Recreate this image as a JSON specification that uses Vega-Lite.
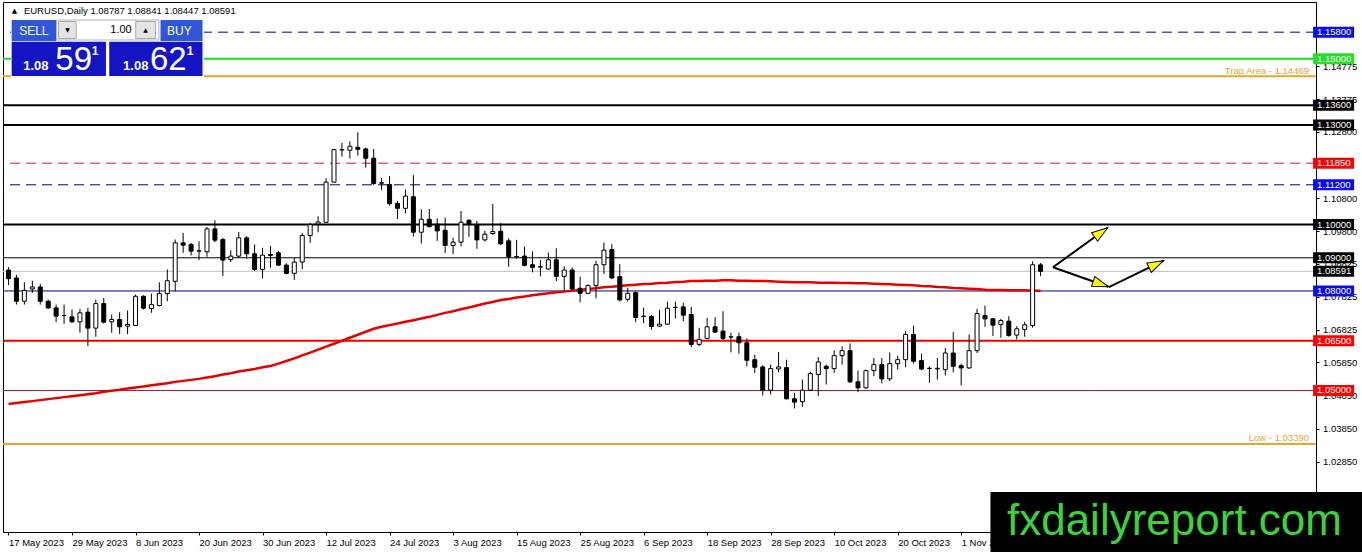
{
"$schema":"https://vega.github.io/schema/vega-lite/v6.json",
"width":1313,"height":530,
"autosize":{"type":"none"},
"padding":{"left":3,"top":2,"right":46,"bottom":20},
"background":"#ffffff",
"config":{"view":{"stroke":"#000000","strokeWidth":1},"text":{"font":"Liberation Sans"},"axis":{"labelFont":"Liberation Sans","labelFontSize":9.5,"labelColor":"#000000","domainColor":"#000000","tickColor":"#000000","grid":false,"zindex":0,"labelOverlap":false},"axisY":{"labelOverlap":false},"axisRight":{"labelOverlap":false},"axisQuantitative":{"labelOverlap":false}},
"datasets":{
"candles":[
{"i":1,"d":"2023-05-17","o":1.0863,"h":1.0872,"l":1.0818,"c":1.0837,"ma":1.0459},
{"i":2,"d":"2023-05-18","o":1.0839,"h":1.0849,"l":1.0759,"c":1.0769,"ma":1.0462},
{"i":3,"d":"2023-05-19","o":1.0769,"h":1.0826,"l":1.0759,"c":1.0802,"ma":1.0465},
{"i":4,"d":"2023-05-22","o":1.0806,"h":1.0831,"l":1.0794,"c":1.0812,"ma":1.0468},
{"i":5,"d":"2023-05-23","o":1.0812,"h":1.0822,"l":1.0759,"c":1.0769,"ma":1.0471},
{"i":6,"d":"2023-05-24","o":1.0769,"h":1.0774,"l":1.0746,"c":1.0749,"ma":1.0474},
{"i":7,"d":"2023-05-25","o":1.0749,"h":1.0759,"l":1.0706,"c":1.0724,"ma":1.0477},
{"i":8,"d":"2023-05-26","o":1.0726,"h":1.0759,"l":1.0701,"c":1.0726,"ma":1.0480},
{"i":9,"d":"2023-05-29","o":1.0722,"h":1.0744,"l":1.0704,"c":1.0707,"ma":1.0483},
{"i":10,"d":"2023-05-30","o":1.0707,"h":1.0746,"l":1.0674,"c":1.0734,"ma":1.0486},
{"i":11,"d":"2023-05-31","o":1.0736,"h":1.0749,"l":1.0634,"c":1.0688,"ma":1.0489},
{"i":12,"d":"2023-06-01","o":1.0688,"h":1.0774,"l":1.0662,"c":1.0762,"ma":1.0492},
{"i":13,"d":"2023-06-02","o":1.0762,"h":1.0779,"l":1.0702,"c":1.0706,"ma":1.0496},
{"i":14,"d":"2023-06-05","o":1.0707,"h":1.0729,"l":1.0674,"c":1.0714,"ma":1.0499},
{"i":15,"d":"2023-06-06","o":1.0714,"h":1.0736,"l":1.0670,"c":1.0692,"ma":1.0502},
{"i":16,"d":"2023-06-07","o":1.0694,"h":1.0741,"l":1.0670,"c":1.0699,"ma":1.0506},
{"i":17,"d":"2023-06-08","o":1.0696,"h":1.0789,"l":1.0694,"c":1.0784,"ma":1.0509},
{"i":18,"d":"2023-06-09","o":1.0784,"h":1.0787,"l":1.0744,"c":1.0748,"ma":1.0512},
{"i":19,"d":"2023-06-12","o":1.0747,"h":1.0792,"l":1.0734,"c":1.0759,"ma":1.0516},
{"i":20,"d":"2023-06-13","o":1.0756,"h":1.0826,"l":1.0754,"c":1.0792,"ma":1.0519},
{"i":21,"d":"2023-06-14","o":1.0792,"h":1.0865,"l":1.0769,"c":1.0831,"ma":1.0522},
{"i":22,"d":"2023-06-15","o":1.0829,"h":1.0955,"l":1.0799,"c":1.0945,"ma":1.0526},
{"i":23,"d":"2023-06-16","o":1.0945,"h":1.0975,"l":1.0915,"c":1.0938,"ma":1.0529},
{"i":24,"d":"2023-06-19","o":1.0940,"h":1.0945,"l":1.0907,"c":1.0920,"ma":1.0532},
{"i":25,"d":"2023-06-20","o":1.0920,"h":1.0950,"l":1.0893,"c":1.0921,"ma":1.0535},
{"i":26,"d":"2023-06-21","o":1.0918,"h":1.0993,"l":1.0903,"c":1.0987,"ma":1.0539},
{"i":27,"d":"2023-06-22","o":1.0987,"h":1.1013,"l":1.0947,"c":1.0953,"ma":1.0543},
{"i":28,"d":"2023-06-23","o":1.0955,"h":1.0960,"l":1.0845,"c":1.0893,"ma":1.0548},
{"i":29,"d":"2023-06-26","o":1.0895,"h":1.0923,"l":1.0887,"c":1.0905,"ma":1.0552},
{"i":30,"d":"2023-06-27","o":1.0905,"h":1.0978,"l":1.0900,"c":1.0960,"ma":1.0557},
{"i":31,"d":"2023-06-28","o":1.0960,"h":1.0965,"l":1.0897,"c":1.0912,"ma":1.0561},
{"i":32,"d":"2023-06-29","o":1.0912,"h":1.0940,"l":1.0860,"c":1.0865,"ma":1.0565},
{"i":33,"d":"2023-06-30","o":1.0865,"h":1.0930,"l":1.0838,"c":1.0908,"ma":1.0570},
{"i":34,"d":"2023-07-03","o":1.0910,"h":1.0935,"l":1.0870,"c":1.0907,"ma":1.0574},
{"i":35,"d":"2023-07-04","o":1.0915,"h":1.0920,"l":1.0875,"c":1.0878,"ma":1.0581},
{"i":36,"d":"2023-07-05","o":1.0878,"h":1.0883,"l":1.0850,"c":1.0853,"ma":1.0589},
{"i":37,"d":"2023-07-06","o":1.0853,"h":1.0900,"l":1.0833,"c":1.0887,"ma":1.0597},
{"i":38,"d":"2023-07-07","o":1.0887,"h":1.0975,"l":1.0865,"c":1.0967,"ma":1.0606},
{"i":39,"d":"2023-07-10","o":1.0967,"h":1.1005,"l":1.0945,"c":1.1000,"ma":1.0614},
{"i":40,"d":"2023-07-11","o":1.1002,"h":1.1025,"l":1.0977,"c":1.1008,"ma":1.0623},
{"i":41,"d":"2023-07-12","o":1.1007,"h":1.1140,"l":1.1005,"c":1.1128,"ma":1.0632},
{"i":42,"d":"2023-07-13","o":1.1128,"h":1.1228,"l":1.1127,"c":1.1226,"ma":1.0641},
{"i":43,"d":"2023-07-14","o":1.1225,"h":1.1246,"l":1.1205,"c":1.1226,"ma":1.0650},
{"i":44,"d":"2023-07-17","o":1.1224,"h":1.1251,"l":1.1199,"c":1.1236,"ma":1.0659},
{"i":45,"d":"2023-07-18","o":1.1233,"h":1.1278,"l":1.1208,"c":1.1227,"ma":1.0668},
{"i":46,"d":"2023-07-19","o":1.1228,"h":1.1232,"l":1.1172,"c":1.1200,"ma":1.0677},
{"i":47,"d":"2023-07-20","o":1.1200,"h":1.1228,"l":1.1119,"c":1.1124,"ma":1.0686},
{"i":48,"d":"2023-07-21","o":1.1126,"h":1.1141,"l":1.1104,"c":1.1125,"ma":1.0692},
{"i":49,"d":"2023-07-24","o":1.1121,"h":1.1146,"l":1.1057,"c":1.1063,"ma":1.0697},
{"i":50,"d":"2023-07-25","o":1.1064,"h":1.1071,"l":1.1017,"c":1.1049,"ma":1.0702},
{"i":51,"d":"2023-07-26","o":1.1049,"h":1.1106,"l":1.1034,"c":1.1086,"ma":1.0707},
{"i":52,"d":"2023-07-27","o":1.1084,"h":1.1149,"l":1.0964,"c":1.0977,"ma":1.0712},
{"i":53,"d":"2023-07-28","o":1.0977,"h":1.1046,"l":1.0943,"c":1.1016,"ma":1.0717},
{"i":54,"d":"2023-07-31","o":1.1016,"h":1.1047,"l":1.0991,"c":1.0994,"ma":1.0722},
{"i":55,"d":"2023-08-01","o":1.1001,"h":1.1019,"l":1.0951,"c":1.0981,"ma":1.0728},
{"i":56,"d":"2023-08-02","o":1.0983,"h":1.1021,"l":1.0914,"c":1.0937,"ma":1.0734},
{"i":57,"d":"2023-08-03","o":1.0937,"h":1.0961,"l":1.0911,"c":1.0947,"ma":1.0739},
{"i":58,"d":"2023-08-04","o":1.0947,"h":1.1041,"l":1.0934,"c":1.1007,"ma":1.0745},
{"i":59,"d":"2023-08-07","o":1.1013,"h":1.1016,"l":1.0963,"c":1.1003,"ma":1.0750},
{"i":60,"d":"2023-08-08","o":1.0999,"h":1.1011,"l":1.0927,"c":1.0954,"ma":1.0756},
{"i":61,"d":"2023-08-09","o":1.0954,"h":1.0981,"l":1.0949,"c":1.0971,"ma":1.0762},
{"i":62,"d":"2023-08-10","o":1.0973,"h":1.1062,"l":1.0969,"c":1.0979,"ma":1.0767},
{"i":63,"d":"2023-08-11","o":1.0980,"h":1.1005,"l":1.0939,"c":1.0942,"ma":1.0773},
{"i":64,"d":"2023-08-14","o":1.0951,"h":1.0959,"l":1.0873,"c":1.0903,"ma":1.0776},
{"i":65,"d":"2023-08-15","o":1.0903,"h":1.0954,"l":1.0897,"c":1.0904,"ma":1.0780},
{"i":66,"d":"2023-08-16","o":1.0905,"h":1.0934,"l":1.0874,"c":1.0877,"ma":1.0783},
{"i":67,"d":"2023-08-17","o":1.0879,"h":1.0919,"l":1.0856,"c":1.0871,"ma":1.0787},
{"i":68,"d":"2023-08-18","o":1.0872,"h":1.0894,"l":1.0844,"c":1.0873,"ma":1.0790},
{"i":69,"d":"2023-08-21","o":1.0866,"h":1.0916,"l":1.0864,"c":1.0894,"ma":1.0793},
{"i":70,"d":"2023-08-22","o":1.0894,"h":1.0929,"l":1.0830,"c":1.0844,"ma":1.0796},
{"i":71,"d":"2023-08-23","o":1.0844,"h":1.0874,"l":1.0800,"c":1.0863,"ma":1.0798},
{"i":72,"d":"2023-08-24","o":1.0863,"h":1.0871,"l":1.0800,"c":1.0806,"ma":1.0801},
{"i":73,"d":"2023-08-25","o":1.0808,"h":1.0843,"l":1.0766,"c":1.0793,"ma":1.0803},
{"i":74,"d":"2023-08-28","o":1.0793,"h":1.0820,"l":1.0790,"c":1.0816,"ma":1.0806},
{"i":75,"d":"2023-08-29","o":1.0816,"h":1.0891,"l":1.0778,"c":1.0879,"ma":1.0808},
{"i":76,"d":"2023-08-30","o":1.0879,"h":1.0946,"l":1.0851,"c":1.0923,"ma":1.0811},
{"i":77,"d":"2023-08-31","o":1.0925,"h":1.0941,"l":1.0837,"c":1.0839,"ma":1.0813},
{"i":78,"d":"2023-09-01","o":1.0843,"h":1.0881,"l":1.0768,"c":1.0773,"ma":1.0815},
{"i":79,"d":"2023-09-04","o":1.0775,"h":1.0810,"l":1.0768,"c":1.0793,"ma":1.0817},
{"i":80,"d":"2023-09-05","o":1.0795,"h":1.0798,"l":1.0706,"c":1.0720,"ma":1.0819},
{"i":81,"d":"2023-09-06","o":1.0723,"h":1.0750,"l":1.0703,"c":1.0724,"ma":1.0821},
{"i":82,"d":"2023-09-07","o":1.0723,"h":1.0728,"l":1.0683,"c":1.0693,"ma":1.0822},
{"i":83,"d":"2023-09-08","o":1.0694,"h":1.0743,"l":1.0692,"c":1.0700,"ma":1.0824},
{"i":84,"d":"2023-09-11","o":1.0700,"h":1.0768,"l":1.0698,"c":1.0748,"ma":1.0825},
{"i":85,"d":"2023-09-12","o":1.0750,"h":1.0768,"l":1.0717,"c":1.0751,"ma":1.0827},
{"i":86,"d":"2023-09-13","o":1.0752,"h":1.0764,"l":1.0709,"c":1.0727,"ma":1.0828},
{"i":87,"d":"2023-09-14","o":1.0729,"h":1.0752,"l":1.0631,"c":1.0639,"ma":1.0830},
{"i":88,"d":"2023-09-15","o":1.0639,"h":1.0689,"l":1.0634,"c":1.0654,"ma":1.0830},
{"i":89,"d":"2023-09-18","o":1.0657,"h":1.0719,"l":1.0654,"c":1.0692,"ma":1.0831},
{"i":90,"d":"2023-09-19","o":1.0692,"h":1.0721,"l":1.0674,"c":1.0676,"ma":1.0831},
{"i":91,"d":"2023-09-20","o":1.0679,"h":1.0739,"l":1.0652,"c":1.0657,"ma":1.0832},
{"i":92,"d":"2023-09-21","o":1.0661,"h":1.0674,"l":1.0615,"c":1.0662,"ma":1.0832},
{"i":93,"d":"2023-09-22","o":1.0662,"h":1.0674,"l":1.0611,"c":1.0644,"ma":1.0831},
{"i":94,"d":"2023-09-25","o":1.0644,"h":1.0657,"l":1.0573,"c":1.0591,"ma":1.0831},
{"i":95,"d":"2023-09-26","o":1.0593,"h":1.0608,"l":1.0553,"c":1.0570,"ma":1.0830},
{"i":96,"d":"2023-09-27","o":1.0571,"h":1.0576,"l":1.0485,"c":1.0501,"ma":1.0830},
{"i":97,"d":"2023-09-28","o":1.0501,"h":1.0578,"l":1.0488,"c":1.0566,"ma":1.0829},
{"i":98,"d":"2023-09-29","o":1.0565,"h":1.0616,"l":1.0555,"c":1.0571,"ma":1.0828},
{"i":99,"d":"2023-10-02","o":1.0569,"h":1.0593,"l":1.0473,"c":1.0475,"ma":1.0827},
{"i":100,"d":"2023-10-03","o":1.0475,"h":1.0493,"l":1.0446,"c":1.0465,"ma":1.0826},
{"i":101,"d":"2023-10-04","o":1.0466,"h":1.0533,"l":1.0451,"c":1.0501,"ma":1.0826},
{"i":102,"d":"2023-10-05","o":1.0501,"h":1.0557,"l":1.0499,"c":1.0551,"ma":1.0826},
{"i":103,"d":"2023-10-06","o":1.0548,"h":1.0601,"l":1.0483,"c":1.0586,"ma":1.0825},
{"i":104,"d":"2023-10-09","o":1.0573,"h":1.0578,"l":1.0518,"c":1.0566,"ma":1.0825},
{"i":105,"d":"2023-10-10","o":1.0566,"h":1.0621,"l":1.0553,"c":1.0605,"ma":1.0825},
{"i":106,"d":"2023-10-11","o":1.0605,"h":1.0633,"l":1.0578,"c":1.0620,"ma":1.0824},
{"i":107,"d":"2023-10-12","o":1.0620,"h":1.0642,"l":1.0523,"c":1.0526,"ma":1.0824},
{"i":108,"d":"2023-10-13","o":1.0526,"h":1.0560,"l":1.0495,"c":1.0508,"ma":1.0823},
{"i":109,"d":"2023-10-16","o":1.0508,"h":1.0563,"l":1.0505,"c":1.0560,"ma":1.0823},
{"i":110,"d":"2023-10-17","o":1.0560,"h":1.0598,"l":1.0543,"c":1.0578,"ma":1.0822},
{"i":111,"d":"2023-10-18","o":1.0578,"h":1.0598,"l":1.0521,"c":1.0535,"ma":1.0821},
{"i":112,"d":"2023-10-19","o":1.0535,"h":1.0615,"l":1.0528,"c":1.0581,"ma":1.0820},
{"i":113,"d":"2023-10-20","o":1.0581,"h":1.0605,"l":1.0563,"c":1.0593,"ma":1.0819},
{"i":114,"d":"2023-10-23","o":1.0593,"h":1.0679,"l":1.0570,"c":1.0669,"ma":1.0818},
{"i":115,"d":"2023-10-24","o":1.0669,"h":1.0696,"l":1.0581,"c":1.0588,"ma":1.0817},
{"i":116,"d":"2023-10-25","o":1.0590,"h":1.0611,"l":1.0561,"c":1.0565,"ma":1.0815},
{"i":117,"d":"2023-10-26","o":1.0566,"h":1.0573,"l":1.0523,"c":1.0567,"ma":1.0814},
{"i":118,"d":"2023-10-27","o":1.0565,"h":1.0598,"l":1.0533,"c":1.0567,"ma":1.0812},
{"i":119,"d":"2023-10-30","o":1.0563,"h":1.0628,"l":1.0545,"c":1.0613,"ma":1.0811},
{"i":120,"d":"2023-10-31","o":1.0613,"h":1.0676,"l":1.0555,"c":1.0573,"ma":1.0809},
{"i":121,"d":"2023-11-01","o":1.0575,"h":1.0581,"l":1.0515,"c":1.0568,"ma":1.0808},
{"i":122,"d":"2023-11-02","o":1.0568,"h":1.0669,"l":1.0565,"c":1.0620,"ma":1.0807},
{"i":123,"d":"2023-11-03","o":1.0620,"h":1.0746,"l":1.0613,"c":1.0732,"ma":1.0806},
{"i":124,"d":"2023-11-06","o":1.0726,"h":1.0756,"l":1.0692,"c":1.0716,"ma":1.0804},
{"i":125,"d":"2023-11-07","o":1.0716,"h":1.0719,"l":1.0664,"c":1.0697,"ma":1.0803},
{"i":126,"d":"2023-11-08","o":1.0699,"h":1.0716,"l":1.0659,"c":1.0711,"ma":1.0803},
{"i":127,"d":"2023-11-09","o":1.0709,"h":1.0724,"l":1.0662,"c":1.0666,"ma":1.0802},
{"i":128,"d":"2023-11-10","o":1.0667,"h":1.0694,"l":1.0654,"c":1.0686,"ma":1.0802},
{"i":129,"d":"2023-11-13","o":1.0684,"h":1.0707,"l":1.0662,"c":1.0698,"ma":1.0802},
{"i":130,"d":"2023-11-14","o":1.0696,"h":1.0889,"l":1.0689,"c":1.0879,"ma":1.0801},
{"i":131,"d":"2023-11-15","o":1.08787,"h":1.08841,"l":1.08447,"c":1.08591,"ma":1.0801}
],
"levels":[
{"p":1.158,"label":"1.15800"},
{"p":1.15,"label":"1.15000"},
{"p":1.14469,"label":"1.14469","note":"Trap Area - 1.14469"},
{"p":1.136,"label":"1.13600"},
{"p":1.13,"label":"1.13000"},
{"p":1.1185,"label":"1.11850"},
{"p":1.112,"label":"1.11200"},
{"p":1.10,"label":"1.10000"},
{"p":1.09,"label":"1.09000"},
{"p":1.08591,"label":"1.08591"},
{"p":1.08,"label":"1.08000"},
{"p":1.065,"label":"1.06500"},
{"p":1.05,"label":"1.05000"},
{"p":1.0339,"label":"1.03390","note":"Low - 1.03390"}
],
"arrows":[
{"arrow":1,"pt":"start","i":132.56,"p":1.08713},
{"arrow":1,"pt":"tip","i":139.44,"p":1.09907},
{"arrow":2,"pt":"start","i":132.56,"p":1.08713},
{"arrow":2,"pt":"tip","i":139.53,"p":1.08128},
{"arrow":3,"pt":"start","i":139.6,"p":1.08116},
{"arrow":3,"pt":"tip","i":146.48,"p":1.08912}
],
"quote":[
{"head":"EURUSD,Daily  1.08787 1.08841 1.08447 1.08591","sell":"SELL","buy":"BUY","lot":"1.00","bidBig":"1.08","bidPips":"59","bidFrac":"1","askBig":"1.08","askPips":"62","askFrac":"1","site":"fxdailyreport.com"}
]
},
"layer":[
{"data":{"name":"levels"},"mark":{"type":"rule","clip":true},
 "encoding":{
  "y":{"field":"p","type":"quantitative","title":null},
  "stroke":{"field":"label","type":"nominal","legend":null,"scale":{"domain":["1.15800","1.15000","1.14469","1.13600","1.13000","1.11850","1.11200","1.10000","1.09000","1.08591","1.08000","1.06500","1.05000","1.03390"],"range":["#000080","#1ee01e","#e3a72f","#000000","#000000","#d0143c","#000080","#000000","#000000","#c0c0c0","#000080","#f00000","#c8102e","#e3a72f"]}},
  "strokeWidth":{"condition":{"test":"indexof(['1.15000','1.14469','1.13600','1.13000','1.10000','1.06500','1.03390'],datum.label)>=0","value":2},"value":1},
  "strokeDash":{"condition":{"test":"indexof(['1.15800','1.11850','1.11200'],datum.label)>=0","value":[10,6]},"value":[1,0]}
 }},
{"data":{"name":"candles"},"mark":{"type":"line","color":"#e60000","strokeWidth":2.5,"clip":true},
 "encoding":{"x":{"field":"i","type":"quantitative","title":null},"y":{"field":"ma","type":"quantitative","title":null}}},
{"data":{"name":"candles"},"mark":{"type":"rule","color":"#000000","strokeWidth":1,"clip":true},
 "encoding":{
  "x":{"field":"i","type":"quantitative","title":null,"scale":{"domain":[0.9375,165.0625],"nice":false,"zero":false},
   "axis":{"orient":"bottom","values":[1,9,17,25,33,41,49,57,65,73,81,89,97,105,113,121],
    "labelExpr":"['17 May 2023','29 May 2023','8 Jun 2023','20 Jun 2023','30 Jun 2023','12 Jul 2023','24 Jul 2023','3 Aug 2023','15 Aug 2023','25 Aug 2023','6 Sep 2023','18 Sep 2023','28 Sep 2023','10 Oct 2023','20 Oct 2023','1 Nov 2023'][(datum.value-1)/8]",
    "labelAlign":"left","labelBaseline":"top","labelPadding":2,"tickSize":3,"labelOverlap":false,"labelFlush":false,"title":null}},
  "y":{"field":"l","type":"quantitative","title":null,"scale":{"domain":[1.007353,1.167089],"nice":false,"zero":false},
   "axis":{"orient":"right","values":[1.14775,1.13775,1.128,1.108,1.098,1.08825,1.07825,1.06825,1.0585,1.0485,1.0385,1.0285],
    "format":".5f","labelAlign":"left","labelBaseline":"middle","tickSize":3,"labelPadding":3.5,"labelOverlap":false,"labelFlush":false,"title":null}},
  "y2":{"field":"h"}
 }},
{"data":{"name":"candles"},"mark":{"type":"bar","width":4,"stroke":"#000000","strokeWidth":1,"clip":true},
 "encoding":{
  "x":{"field":"i","type":"quantitative","title":null},
  "y":{"field":"o","type":"quantitative","title":null},
  "y2":{"field":"c"},
  "fill":{"condition":{"test":"datum.c >= datum.o","value":"#ffffff"},"value":"#000000"}
 }},
{"data":{"name":"arrows"},"mark":{"type":"line","color":"#000000","strokeWidth":2},
 "encoding":{"x":{"field":"i","type":"quantitative","title":null},"y":{"field":"p","type":"quantitative","title":null},"detail":{"field":"arrow","type":"nominal"}}},
{"data":{"name":"arrows"},"transform":[{"filter":"datum.pt=='tip' && datum.arrow==1"}],
 "mark":{"type":"point","shape":"M0,0L-2,-0.65L-2,0.65Z","size":256,"angle":-35.75,"filled":true,"fill":"#ffff00","stroke":"#000000","strokeWidth":1,"opacity":1},
 "encoding":{"x":{"field":"i","type":"quantitative","title":null},"y":{"field":"p","type":"quantitative","title":null}}},
{"data":{"name":"arrows"},"transform":[{"filter":"datum.pt=='tip' && datum.arrow==2"}],
 "mark":{"type":"point","shape":"M0,0L-2,-0.65L-2,0.65Z","size":256,"angle":19.2,"filled":true,"fill":"#ffff00","stroke":"#000000","strokeWidth":1,"opacity":1},
 "encoding":{"x":{"field":"i","type":"quantitative","title":null},"y":{"field":"p","type":"quantitative","title":null}}},
{"data":{"name":"arrows"},"transform":[{"filter":"datum.pt=='tip' && datum.arrow==3"}],
 "mark":{"type":"point","shape":"M0,0L-2,-0.65L-2,0.65Z","size":256,"angle":-26,"filled":true,"fill":"#ffff00","stroke":"#000000","strokeWidth":1,"opacity":1},
 "encoding":{"x":{"field":"i","type":"quantitative","title":null},"y":{"field":"p","type":"quantitative","title":null}}},
{"data":{"name":"levels"},"transform":[{"filter":"!datum.note"}],
 "mark":{"type":"tick","orient":"horizontal","size":41,"thickness":11,"opacity":1,"filled":true},
 "encoding":{
  "x":{"datum":167.91,"title":null},
  "y":{"field":"p","type":"quantitative","title":null},
  "fill":{"field":"label","type":"nominal","legend":null,"scale":{"domain":["1.15800","1.15000","1.13600","1.13000","1.11850","1.11200","1.10000","1.09000","1.08591","1.08000","1.06500","1.05000"],"range":["#0a0af0","#22e022","#000000","#000000","#ff0000","#0a0af0","#000000","#000000","#000000","#0a0af0","#ff0000","#ff0000"]}}
 }},
{"data":{"name":"levels"},"transform":[{"filter":"!datum.note"}],
 "mark":{"type":"text","align":"left","baseline":"middle","color":"#ffffff","fontSize":9.5},
 "encoding":{"x":{"datum":165.8125,"title":null},"y":{"field":"p","type":"quantitative","title":null},"text":{"field":"label"}}},
{"data":{"name":"levels"},"transform":[{"filter":"datum.note"}],
 "mark":{"type":"text","align":"right","baseline":"alphabetic","dy":-2.5,"color":"#e8a435","fontSize":9.5},
 "encoding":{"x":{"datum":164.8125,"title":null},"y":{"field":"p","type":"quantitative","title":null},"text":{"field":"note"}}},
{"data":{"name":"quote"},"mark":{"type":"rect","fill":"#ffffff"},
 "encoding":{"x":{"datum":1.3125,"title":null},"x2":{"datum":25.625},"y":{"datum":1.162267,"title":null},"y2":{"datum":1.144334}}},
{"data":{"name":"quote"},"mark":{"type":"rect","fill":"#2f56d8"},
 "encoding":{"x":{"datum":1.4,"title":null},"x2":{"datum":7.025},"y":{"datum":1.161664,"title":null},"y2":{"datum":1.155335}}},
{"data":{"name":"quote"},"mark":{"type":"rect","fill":"#2f56d8"},
 "encoding":{"x":{"datum":20.15,"title":null},"x2":{"datum":25.4375},"y":{"datum":1.161664,"title":null},"y2":{"datum":1.155335}}},
{"data":{"name":"quote"},"mark":{"type":"rect","fill":"#ffffff","stroke":"#b4b4b4","strokeWidth":1},
 "encoding":{"x":{"datum":7.0625,"title":null},"x2":{"datum":19.9375},"y":{"datum":1.161664,"title":null},"y2":{"datum":1.155637}}},
{"data":{"name":"quote"},"mark":{"type":"rect","fill":"#e4e4e4","stroke":"#a8a8a8","strokeWidth":1},
 "encoding":{"x":{"datum":7.3125,"title":null},"x2":{"datum":9.525},"y":{"datum":1.161212,"title":null},"y2":{"datum":1.156089}}},
{"data":{"name":"quote"},"mark":{"type":"rect","fill":"#e4e4e4","stroke":"#a8a8a8","strokeWidth":1},
 "encoding":{"x":{"datum":17.025,"title":null},"x2":{"datum":19.525},"y":{"datum":1.161212,"title":null},"y2":{"datum":1.156089}}},
{"data":{"name":"quote"},"mark":{"type":"rect","fill":"#1414c4"},
 "encoding":{"x":{"datum":1.4,"title":null},"x2":{"datum":13.275},"y":{"datum":1.155124,"title":null},"y2":{"datum":1.144787}}},
{"data":{"name":"quote"},"mark":{"type":"rect","fill":"#1414c4"},
 "encoding":{"x":{"datum":13.6875,"title":null},"x2":{"datum":25.4375},"y":{"datum":1.155124,"title":null},"y2":{"datum":1.144787}}},
{"data":{"name":"quote"},"mark":{"type":"text","align":"center","baseline":"middle","color":"#ffffff","fontSize":12},
 "encoding":{"x":{"datum":4.1875,"title":null},"y":{"datum":1.158349,"title":null},"text":{"field":"sell"}}},
{"data":{"name":"quote"},"mark":{"type":"text","align":"center","baseline":"middle","color":"#ffffff","fontSize":12},
 "encoding":{"x":{"datum":22.525,"title":null},"y":{"datum":1.158349,"title":null},"text":{"field":"buy"}}},
{"data":{"name":"quote"},"mark":{"type":"text","align":"right","baseline":"middle","color":"#000000","fontSize":11},
 "encoding":{"x":{"datum":16.525,"title":null},"y":{"datum":1.15865,"title":null},"text":{"field":"lot"}}},
{"data":{"name":"quote"},"mark":{"type":"text","align":"center","baseline":"middle","color":"#000000","fontSize":6,"font":"DejaVu Sans","text":"▼"},
 "encoding":{"x":{"datum":8.4375,"title":null},"y":{"datum":1.15865,"title":null}}},
{"data":{"name":"quote"},"mark":{"type":"text","align":"center","baseline":"middle","color":"#000000","fontSize":6,"font":"DejaVu Sans","text":"▲"},
 "encoding":{"x":{"datum":18.275,"title":null},"y":{"datum":1.15865,"title":null}}},
{"data":{"name":"quote"},"mark":{"type":"text","align":"left","baseline":"alphabetic","color":"#ffffff","fontSize":13,"fontWeight":"bold"},
 "encoding":{"x":{"datum":2.85,"title":null},"y":{"datum":1.146595,"title":null},"text":{"field":"bidBig"}}},
{"data":{"name":"quote"},"mark":{"type":"text","align":"left","baseline":"alphabetic","color":"#ffffff","fontSize":33},
 "encoding":{"x":{"datum":6.9,"title":null},"y":{"datum":1.146595,"title":null},"text":{"field":"bidPips"}}},
{"data":{"name":"quote"},"mark":{"type":"text","align":"left","baseline":"alphabetic","color":"#ffffff","fontSize":12,"fontWeight":"bold"},
 "encoding":{"x":{"datum":11.5,"title":null},"y":{"datum":1.151116,"title":null},"text":{"field":"bidFrac"}}},
{"data":{"name":"quote"},"mark":{"type":"text","align":"left","baseline":"alphabetic","color":"#ffffff","fontSize":13,"fontWeight":"bold"},
 "encoding":{"x":{"datum":15.4375,"title":null},"y":{"datum":1.146595,"title":null},"text":{"field":"askBig"}}},
{"data":{"name":"quote"},"mark":{"type":"text","align":"left","baseline":"alphabetic","color":"#ffffff","fontSize":33},
 "encoding":{"x":{"datum":18.8125,"title":null},"y":{"datum":1.146595,"title":null},"text":{"field":"askPips"}}},
{"data":{"name":"quote"},"mark":{"type":"text","align":"left","baseline":"alphabetic","color":"#ffffff","fontSize":12,"fontWeight":"bold"},
 "encoding":{"x":{"datum":23.4375,"title":null},"y":{"datum":1.151116,"title":null},"text":{"field":"askFrac"}}},
{"data":{"name":"quote"},"mark":{"type":"text","align":"center","baseline":"middle","color":"#000000","fontSize":7,"font":"DejaVu Sans","text":"▲"},
 "encoding":{"x":{"datum":1.75,"title":null},"y":{"datum":1.164377,"title":null}}},
{"data":{"name":"quote"},"mark":{"type":"text","align":"left","baseline":"middle","color":"#000000","fontSize":9.5},
 "encoding":{"x":{"datum":2.9375,"title":null},"y":{"datum":1.164377,"title":null},"text":{"field":"head"}}},
{"data":{"name":"quote"},"mark":{"type":"rect","fill":"#000000"},
 "encoding":{"x":{"datum":124.6875,"title":null},"x2":{"datum":172},"y":{"datum":1.019408,"title":null},"y2":{"datum":0.99}}},
{"data":{"name":"quote"},"mark":{"type":"text","align":"center","baseline":"alphabetic","color":"#3dd13d","fontSize":44},
 "encoding":{"x":{"datum":147.8625,"title":null},"y":{"datum":1.006539,"title":null},"text":{"field":"site"}}}
]
}
